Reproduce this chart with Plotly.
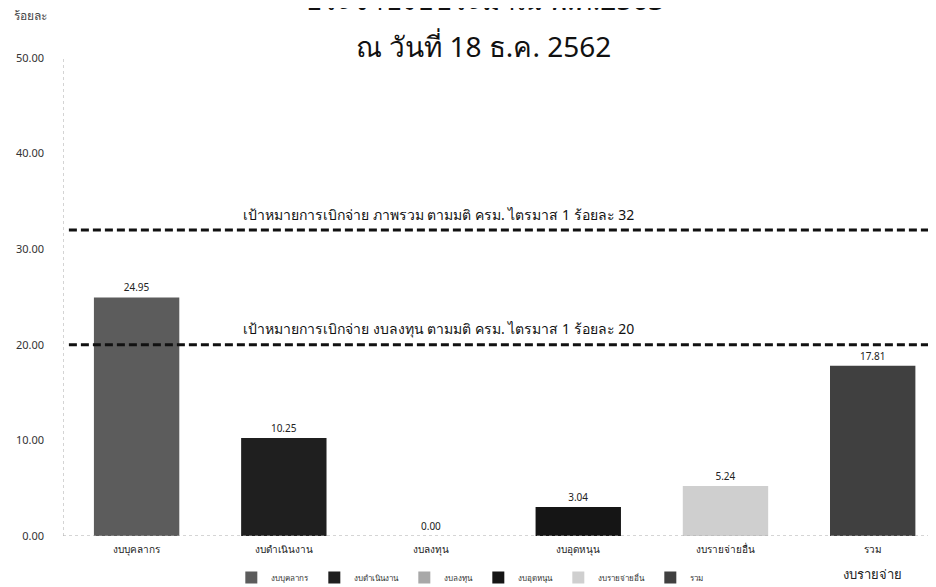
import plotly.graph_objects as go

categories = ["งบบุคลากร", "งบดำเนินงาน", "งบลงทุน", "งบอุดหนุน", "งบรายจ่ายอื่น",
              "รวม<br><br><span style='font-size:13px'>งบรายจ่าย</span>"]
legend_names = ["งบบุคลากร", "งบดำเนินงาน", "งบลงทุน", "งบอุดหนุน", "งบรายจ่ายอื่น", "รวม"]
values = [24.95, 10.25, 0.00, 3.04, 5.24, 17.81]
colors = ["#5c5c5c", "#1f1f1f", "#a8a8a8", "#151515", "#cfcfcf", "#404040"]
target_values = [32, 20]
target_labels = [
    "เป้าหมายการเบิกจ่าย ภาพรวม ตามมติ ครม. ไตรมาส 1 ร้อยละ 32",
    "เป้าหมายการเบิกจ่าย งบลงทุน ตามมติ ครม. ไตรมาส 1 ร้อยละ 20",
]
tick_vals = [0, 10, 20, 30, 40, 50]
title_line1 = "ประจำปีงบประมาณ พ.ศ.2563"
title_line2 = "ณ วันที่ 18 ธ.ค. 2562"

FONT = "Noto Sans, DejaVu Sans, sans-serif"

fig = go.Figure()
for i in range(len(categories)):
    fig.add_trace(go.Bar(
        x=[i], y=[values[i]], name=legend_names[i],
        marker=dict(color=colors[i], line=dict(width=0)),
        width=0.58,
        text=[f"{values[i]:.2f}"], textposition="outside",
        textfont=dict(size=10, color="#222", family=FONT),
        cliponaxis=False,
    ))

# dotted axis lines
fig.add_shape(type="line", xref="x", yref="y", x0=-0.5, x1=-0.5, y0=0, y1=50,
              line=dict(color="#aaa", width=1, dash="dot"))
fig.add_shape(type="line", xref="x", yref="y", x0=-0.5, x1=5.43, y0=0, y1=0,
              line=dict(color="#aaa", width=1, dash="dot"))

for v, lab in zip(target_values, target_labels):
    fig.add_shape(type="line", xref="x", yref="y", x0=-0.46, x1=5.43, y0=v, y1=v,
                  line=dict(color="#111", width=3, dash="8px,4px"))
    fig.add_annotation(xref="x", yref="y", x=2.05, y=v, yshift=16, text=lab,
                       showarrow=False, font=dict(size=14, color="#111", family=FONT))

fig.add_annotation(xref="paper", yref="paper", x=0.0, y=1.0, xshift=-51, yshift=43,
                   xanchor="left", yanchor="middle", text="ร้อยละ", showarrow=False,
                   font=dict(size=12, color="#444", family=FONT))
fig.add_annotation(xref="paper", yref="paper", x=0.482, y=1.0, yshift=59, text=title_line1,
                   xanchor="center", yanchor="middle", showarrow=False,
                   font=dict(size=28, color="#111", family=FONT))
fig.add_annotation(xref="paper", yref="paper", x=0.482, y=1.0, yshift=12, text=title_line2,
                   xanchor="center", yanchor="middle", showarrow=False,
                   font=dict(size=28, color="#111", family=FONT))

fig.update_layout(
    width=936, height=587,
    margin=dict(l=55, r=8, t=50, b=59, autoexpand=False),
    paper_bgcolor="white", plot_bgcolor="white",
    barmode="overlay",
    showlegend=True,
    legend=dict(orientation="h", x=0.466, xanchor="center", y=-0.0565, yanchor="top",
                font=dict(size=8, color="#333", family=FONT), itemwidth=30,
                bgcolor="rgba(0,0,0,0)"),
    xaxis=dict(range=[-0.5, 5.43], tickmode="array", tickvals=list(range(len(categories))),
               ticktext=categories, showgrid=False, zeroline=False, automargin=False,
               showline=False,
               tickfont=dict(size=10, color="#222", family=FONT), ticks="",
               ticklabelstandoff=6),
    yaxis=dict(range=[0, 50], tickvals=tick_vals, tickformat=".2f", showgrid=False,
               zeroline=False, showline=False, automargin=False,
               tickfont=dict(size=11, color="#333", family=FONT), ticks="", ticklabelstandoff=18),
)

fig.write_html("out.html")
